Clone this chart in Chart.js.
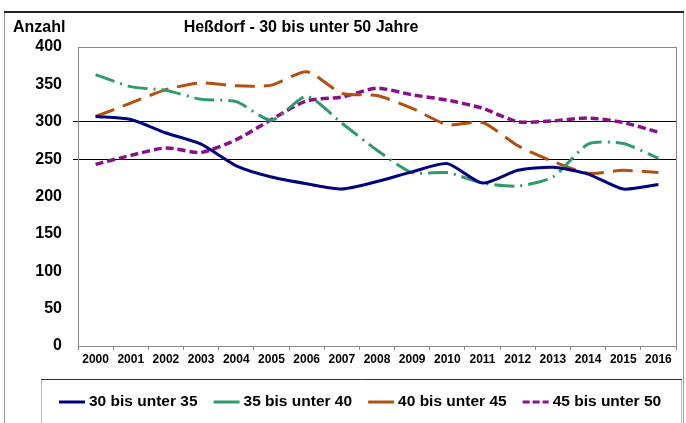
<html>
<head>
<meta charset="utf-8">
<title>Heßdorf</title>
<script src="https://cdn.jsdelivr.net/npm/chart.js@4.4.1/dist/chart.umd.min.js"></script>
<style>
  body { margin:0; background:#fff; }
  #wrap { width:686px; height:423px; }
</style>
</head>
<body>
<div id="wrap"><canvas id="chart" width="686" height="423"></canvas></div>

<script>
// data
var years = ['2000','2001','2002','2003','2004','2005','2006','2007','2008','2009','2010','2011','2012','2013','2014','2015','2016'];
var s30 = [307, 303, 285, 270, 241, 226, 217, 210, 220, 233, 244, 218, 235, 239, 230, 210, 216];
var s35 = [363, 347, 342, 330, 327, 302, 334, 298, 262, 232, 232, 218, 214, 226, 270, 271, 251];
var s40 = [307, 325, 343, 352, 348, 349, 367, 338, 335, 318, 296, 299, 268, 247, 231, 235, 232];
var s45 = [243, 255, 265, 259, 276, 303, 328, 333, 345, 336, 329, 318, 300, 301, 305, 299, 286];
var seriesNames = ['30 bis unter 35', '35 bis unter 40', '40 bis unter 45', '45 bis unter 50'];
var yTicks = [0, 50, 100, 150, 200, 250, 300, 350, 400];
var yLines = [250, 300];

var FONT = '"Liberation Sans", Arial, sans-serif';

// frame, title and legend box drawn around the chart
var framePlugin = {
  id: 'frame',
  beforeDraw: function(chart) {
    var ctx = chart.ctx;
    ctx.save();
    ctx.fillStyle = '#fff';
    ctx.fillRect(0, 0, chart.width, chart.height);
    // outer frame
    ctx.strokeStyle = '#999';
    ctx.lineWidth = 1;
    ctx.beginPath();
    ctx.moveTo(4.5, 11); ctx.lineTo(4.5, 423);
    ctx.moveTo(683.5, 11); ctx.lineTo(683.5, 423);
    ctx.stroke();
    ctx.strokeStyle = '#222';
    ctx.lineWidth = 2;
    ctx.beginPath();
    ctx.moveTo(4, 12); ctx.lineTo(684, 12);
    ctx.stroke();
    ctx.restore();
  },
  afterDraw: function(chart) {
    var ctx = chart.ctx;
    var a = chart.chartArea;
    ctx.save();
    // plot border
    ctx.strokeStyle = '#888';
    ctx.lineWidth = 1;
    ctx.strokeRect(Math.round(a.left) + 0.5, Math.round(a.top) + 0.5, Math.round(a.right - a.left), Math.round(a.bottom - a.top));

    // texts
    ctx.fillStyle = '#000';
    ctx.font = 'bold 16px ' + FONT;
    ctx.textBaseline = 'middle';
    ctx.textAlign = 'left';
    ctx.fillText('Anzahl', 13, 28);
    ctx.textAlign = 'center';
    ctx.fillText('Heßdorf - 30 bis unter 50 Jahre', 301, 28);

    // legend box
    ctx.strokeStyle = '#bbb';
    ctx.beginPath();
    ctx.moveTo(41.5, 379); ctx.lineTo(41.5, 423);
    ctx.moveTo(681.5, 379); ctx.lineTo(681.5, 423);
    ctx.stroke();
    ctx.strokeStyle = '#333';
    ctx.beginPath();
    ctx.moveTo(41, 379.5); ctx.lineTo(682, 379.5);
    ctx.stroke();

    // legend items
    ctx.font = 'bold 15.5px ' + FONT;
    ctx.textAlign = 'left';
    var x = 59, y = 402;
    chart.data.datasets.forEach(function(ds, i) {
      ctx.save();
      ctx.strokeStyle = ds.borderColor;
      ctx.lineWidth = 3;
      ctx.setLineDash(i === 3 ? [7, 3] : []);
      ctx.beginPath();
      ctx.moveTo(x, y); ctx.lineTo(x + 26, y);
      ctx.stroke();
      ctx.restore();
      ctx.fillStyle = '#000';
      ctx.fillText(ds.label, x + 30, y);
      x += 30 + ctx.measureText(ds.label).width + 16;
    });
    ctx.restore();
  }
};

new Chart(document.getElementById('chart'), {
  type: 'line',
  data: {
    labels: years,
    datasets: [
      { label: seriesNames[0], data: s30, borderColor: '#000080', borderWidth: 3, borderDash: [] },
      { label: seriesNames[1], data: s35, borderColor: '#2e9b6a', borderWidth: 3, borderDash: [20, 6, 2, 6] },
      { label: seriesNames[2], data: s40, borderColor: '#b4500f', borderWidth: 3, borderDash: [20, 9] },
      { label: seriesNames[3], data: s45, borderColor: '#8a0f8a', borderWidth: 3.5, borderDash: [8, 4] }
    ]
  },
  options: {
    responsive: false,
    animation: false,
    elements: { point: { radius: 0 }, line: { tension: 0.22, fill: false } },
    layout: { padding: { top: 47, right: 10, bottom: 0, left: 0 } },
    plugins: { legend: { display: false }, title: { display: false }, tooltip: { enabled: false } },
    scales: {
      x: {
        offset: true,
        border: { display: false },
        grid: { offset: true, drawOnChartArea: false, drawTicks: true, tickLength: 4, color: '#888' },
        ticks: { maxRotation: 0, autoSkip: false, padding: 2, color: '#000', font: { family: FONT, size: 12, weight: 'bold' } },
        afterFit: function(scale) { scale.height = 77; }
      },
      y: {
        min: 0,
        max: 400,
        border: { display: false },
        afterBuildTicks: function(scale) { scale.ticks = yTicks.map(function(v) { return { value: v }; }); },
        grid: {
          tickLength: 5,
          color: function(c) { return yLines.indexOf(c.tick.value) >= 0 ? '#000' : 'rgba(0,0,0,0)'; }
        },
        ticks: { padding: 11, color: '#000', font: { family: FONT, size: 16, weight: 'bold' } },
        afterFit: function(scale) { scale.width = 78; }
      }
    }
  },
  plugins: [framePlugin]
});
</script>
</body>
</html>
